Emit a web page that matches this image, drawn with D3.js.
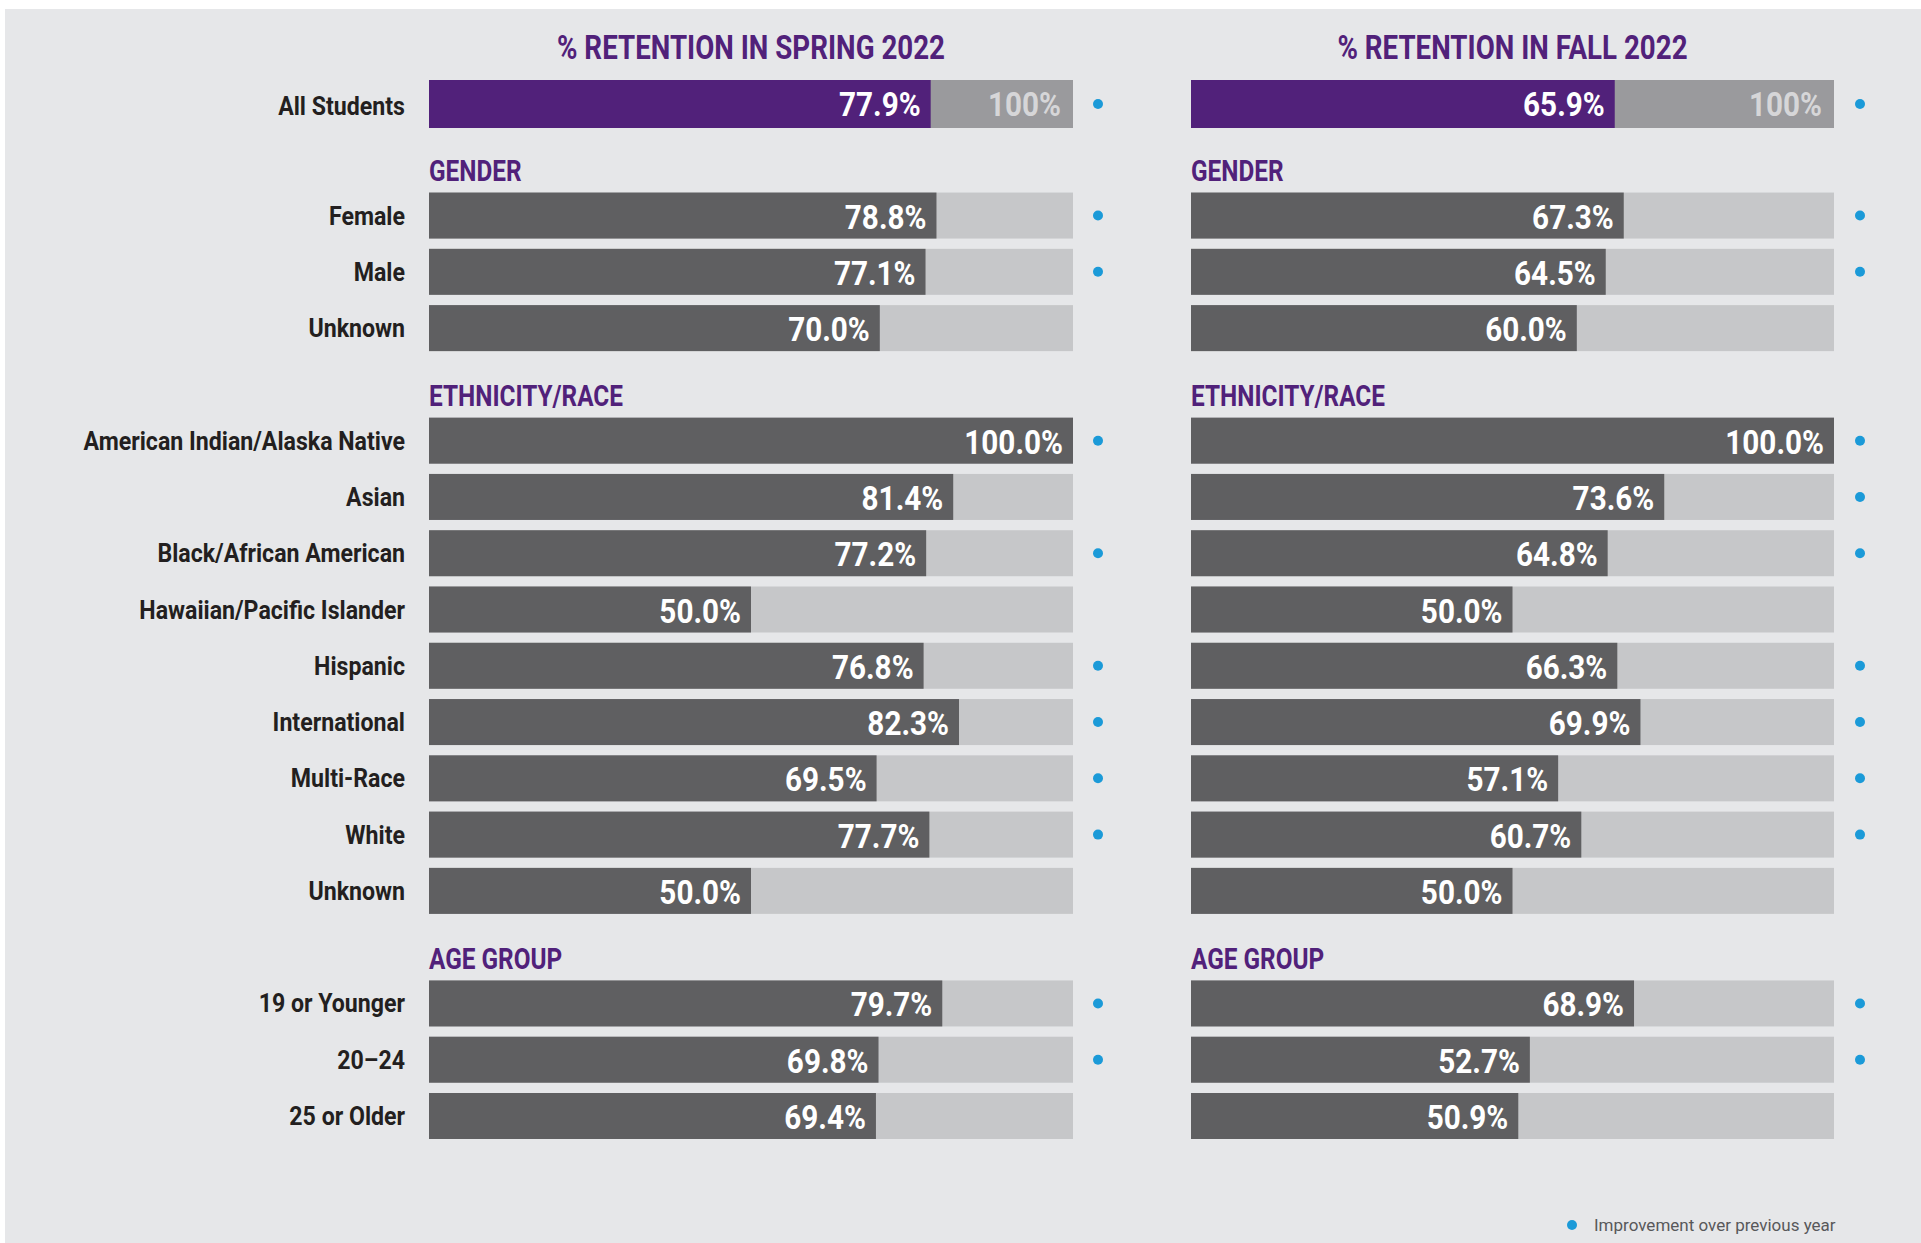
<!DOCTYPE html>
<html>
<head>
<meta charset="utf-8">
<script src="https://cdn.jsdelivr.net/npm/d3@7"></script>
<style>
    body { margin: 0; background: #ffffff; }
    svg { display: block; }
    text { font-family: Roboto, "Noto Sans", sans-serif; }
</style>
</head>
<body>
<div id="chart"></div>
<script>
// Row labels and the section each one belongs to
const categories = ['All Students', 'Female', 'Male', 'Unknown',
    'American Indian/Alaska Native', 'Asian', 'Black/African American', 'Hawaiian/Pacific Islander',
    'Hispanic', 'International', 'Multi-Race', 'White', 'Unknown',
    '19 or Younger', '20\u201324', '25 or Older'];
const categoryGroups = ['', 'GENDER', 'GENDER', 'GENDER',
    'ETHNICITY/RACE', 'ETHNICITY/RACE', 'ETHNICITY/RACE', 'ETHNICITY/RACE',
    'ETHNICITY/RACE', 'ETHNICITY/RACE', 'ETHNICITY/RACE', 'ETHNICITY/RACE', 'ETHNICITY/RACE',
    'AGE GROUP', 'AGE GROUP', 'AGE GROUP'];

// % retention values
const spring2022 = [77.9, 78.8, 77.1, 70.0, 100.0, 81.4, 77.2, 50.0, 76.8, 82.3, 69.5, 77.7, 50.0, 79.7, 69.8, 69.4];
const fall2022 = [65.9, 67.3, 64.5, 60.0, 100.0, 73.6, 64.8, 50.0, 66.3, 69.9, 57.1, 60.7, 50.0, 68.9, 52.7, 50.9];

// 1 = improvement over previous year (blue dot)
const springImproved = [1, 1, 1, 0, 1, 0, 1, 0, 1, 1, 1, 1, 0, 1, 1, 0];
const fallImproved = [1, 1, 1, 0, 1, 1, 1, 0, 1, 1, 1, 1, 0, 1, 1, 0];

const panelTitles = ['% RETENTION IN SPRING 2022', '% RETENTION IN FALL 2022'];
const legendLabel = 'Improvement over previous year';

const width = 1921, height = 1243;
const purple = '#51217a', darkBar = '#5f5f61', track = '#c6c7c9', allTrack = '#9a9a9d',
    blue = '#1b9ad8', labelColor = '#231f20';

// lay rows out in slots, a header slot before each new section
let slot = 0, prevGroup = null;
const rows = [], headers = [];
categories.forEach((c, i) => {
    const g = categoryGroups[i];
    if (g !== prevGroup && g !== '') {
        headers.push({name: g, slot: slot});
        slot++;
    }
    prevGroup = g;
    rows.push({name: c, group: g, slot: slot, spring: spring2022[i], fall: fall2022[i],
        springUp: springImproved[i], fallUp: fallImproved[i], first: i === 0});
    slot++;
});

const yScale = d3.scaleLinear().domain([0, slot - 1]).range([80, 1093]);
const barH = 46;

const panels = [
    {title: panelTitles[0], key: 'spring', up: 'springUp', x: d3.scaleLinear().domain([0, 100]).range([429, 1073]), dotX: 1098},
    {title: panelTitles[1], key: 'fall', up: 'fallUp', x: d3.scaleLinear().domain([0, 100]).range([1191, 1834]), dotX: 1860}
];

const svg = d3.select('#chart').append('svg')
    .attr('width', width)
    .attr('height', height);

svg.append('rect')
    .attr('x', 5).attr('y', 9)
    .attr('width', width - 5).attr('height', height - 9)
    .attr('fill', '#e6e7e9');

// condensed text helper (no condensed face installed, so squeeze Roboto)
function ctext(sel, x, y, str, opts) {
    const g = sel.append('g').attr('transform', `translate(${x},${y}) scale(${opts.sx || 0.84},1)`);
    return g.append('text')
        .attr('text-anchor', opts.anchor || 'start')
        .attr('font-size', opts.size)
        .attr('font-weight', opts.weight || 700)
        .attr('fill', opts.fill)
        .text(str);
}

// row labels
rows.forEach(d => {
    ctext(svg, 405, yScale(d.slot) + (d.first ? 35 : 32), d.name, {anchor: 'end', size: 26, sx: 0.89, fill: labelColor});
});

panels.forEach(p => {
    const [x0, x1] = p.x.range();
    const g = svg.append('g');

    ctext(g, (x0 + x1) / 2, 59, p.title, {anchor: 'middle', size: 33, fill: purple});

    headers.forEach(h => {
        ctext(g, x0, yScale(h.slot) + 45, h.name, {size: 29, fill: purple});
    });

    // background tracks
    g.selectAll('.track')
        .data(rows)
        .join('rect')
        .attr('class', 'track')
        .attr('x', p.x(0))
        .attr('y', d => yScale(d.slot))
        .attr('width', p.x(100) - p.x(0))
        .attr('height', d => d.first ? barH + 2 : barH)
        .attr('fill', d => d.first ? allTrack : track);

    // value bars
    g.selectAll('.bar')
        .data(rows)
        .join('rect')
        .attr('class', 'bar')
        .attr('x', p.x(0))
        .attr('y', d => yScale(d.slot))
        .attr('width', d => p.x(d[p.key]) - p.x(0))
        .attr('height', d => d.first ? barH + 2 : barH)
        .attr('fill', d => d.first ? purple : darkBar);

    rows.forEach(d => {
        ctext(g, p.x(d[p.key]) - 10, yScale(d.slot) + 36, d3.format('.1f')(d[p.key]) + '%',
            {anchor: 'end', size: 33, sx: 0.9, fill: '#ffffff'});
        if (d.first) {
            ctext(g, p.x(100) - 12, yScale(d.slot) + 36, '100%',
                {anchor: 'end', size: 33, sx: 0.9, fill: '#d6d6d8'});
        }
    });

    // improvement dots
    g.selectAll('.dot')
        .data(rows.filter(d => d[p.up]))
        .join('circle')
        .attr('class', 'dot')
        .attr('cx', p.dotX)
        .attr('cy', d => yScale(d.slot) + (d.first ? barH + 2 : barH) / 2)
        .attr('r', 5)
        .attr('fill', blue);
});

// legend
svg.append('circle')
    .attr('cx', 1572).attr('cy', 1225)
    .attr('r', 5)
    .attr('fill', blue);
svg.append('text')
    .attr('x', 1594).attr('y', 1231)
    .attr('font-size', 17)
    .attr('fill', '#58585a')
    .text(legendLabel);
</script>
</body>
</html>
